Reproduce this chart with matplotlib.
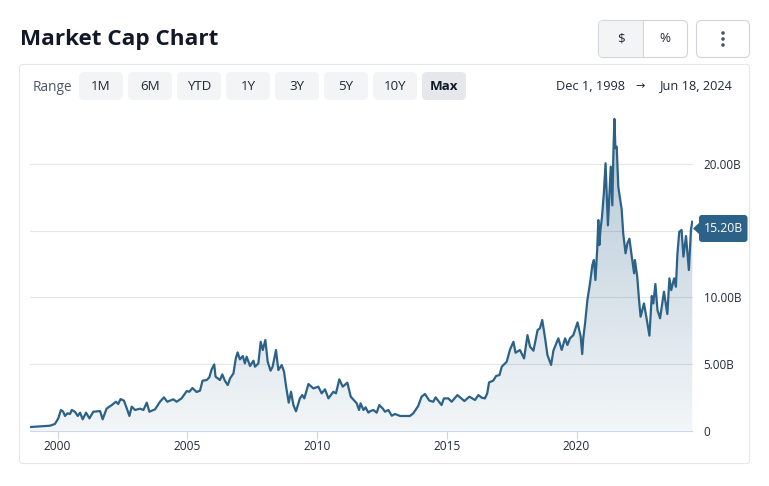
import numpy as np
import matplotlib
matplotlib.use("Agg")
import matplotlib.pyplot as plt
from matplotlib.patches import FancyBboxPatch, Rectangle, Polygon, Circle

# market cap in billions
years = [1998.94, 1999.33, 1999.71, 1999.90, 2000.03, 2000.13, 2000.22, 2000.29, 2000.38, 2000.48,
         2000.55, 2000.67, 2000.78, 2000.87, 2000.97, 2001.10, 2001.23, 2001.38, 2001.64, 2001.74,
         2001.89, 2002.09, 2002.25, 2002.34, 2002.43, 2002.56, 2002.67, 2002.77, 2002.86, 2002.99,
         2003.18, 2003.31, 2003.44, 2003.54, 2003.76, 2003.95, 2004.10, 2004.23, 2004.46, 2004.59,
         2004.78, 2004.98, 2005.08, 2005.20, 2005.36, 2005.49, 2005.59, 2005.75, 2005.85, 2005.94,
         2006.04, 2006.09, 2006.26, 2006.35, 2006.45, 2006.56, 2006.65, 2006.78, 2006.87, 2006.94,
         2007.03, 2007.14, 2007.22, 2007.29, 2007.42, 2007.55, 2007.61, 2007.74, 2007.83, 2007.91,
         2008.01, 2008.10, 2008.21, 2008.29, 2008.42, 2008.51, 2008.64, 2008.73, 2008.81, 2008.91,
         2009.00, 2009.09, 2009.19, 2009.34, 2009.43, 2009.51, 2009.67, 2009.86, 2010.05, 2010.18,
         2010.31, 2010.44, 2010.63, 2010.73, 2010.86, 2010.99, 2011.17, 2011.30, 2011.53, 2011.62,
         2011.68, 2011.79, 2011.87, 2011.98, 2012.04, 2012.17, 2012.30, 2012.40, 2012.53, 2012.62,
         2012.75, 2012.88, 2013.01, 2013.20, 2013.39, 2013.58, 2013.71, 2013.90, 2014.03, 2014.16,
         2014.33, 2014.48, 2014.57, 2014.80, 2014.89, 2015.06, 2015.19, 2015.41, 2015.68, 2015.87,
         2016.09, 2016.22, 2016.35, 2016.47, 2016.56, 2016.63, 2016.79, 2016.90, 2017.03, 2017.12,
         2017.31, 2017.44, 2017.57, 2017.65, 2017.82, 2017.98, 2018.11, 2018.21, 2018.34, 2018.50,
         2018.59, 2018.68, 2018.79, 2018.88, 2019.02, 2019.11, 2019.30, 2019.43, 2019.56, 2019.65,
         2019.75, 2019.88, 2020.04, 2020.16, 2020.22, 2020.26, 2020.33, 2020.42, 2020.52, 2020.61,
         2020.67, 2020.73, 2020.80, 2020.84, 2020.88, 2020.92, 2020.98, 2021.05, 2021.12, 2021.21,
         2021.32, 2021.38, 2021.42, 2021.46, 2021.50, 2021.55, 2021.61, 2021.74, 2021.80, 2021.89,
         2021.96, 2022.04, 2022.13, 2022.22, 2022.25, 2022.34, 2022.41, 2022.47, 2022.60, 2022.70,
         2022.81, 2022.90, 2022.96, 2023.04, 2023.12, 2023.22, 2023.37, 2023.50, 2023.58, 2023.65,
         2023.76, 2023.83, 2023.89, 2023.96, 2024.05, 2024.12, 2024.22, 2024.33, 2024.41, 2024.46]
caps = [0.26, 0.31, 0.36, 0.49, 0.91, 1.54, 1.41, 1.09, 1.29, 1.24,
        1.54, 1.41, 1.09, 1.34, 0.84, 1.34, 0.91, 1.41, 1.46, 0.84,
        1.64, 1.91, 2.16, 1.99, 2.36, 2.24, 1.66, 1.09, 1.79, 1.54,
        1.64, 1.54, 2.09, 1.41, 1.59, 2.16, 2.49, 2.16, 2.34, 2.16,
        2.41, 2.96, 2.91, 3.19, 2.89, 2.99, 3.74, 3.79, 3.99, 4.59,
        4.96, 4.04, 3.79, 4.21, 3.74, 3.41, 3.91, 4.29, 5.41, 5.86,
        5.34, 5.59, 5.04, 5.54, 4.84, 5.24, 4.79, 5.04, 6.66, 6.04,
        6.79, 5.16, 4.49, 4.79, 6.04, 4.54, 4.91, 4.41, 3.29, 2.09,
        2.91, 1.91, 1.44, 2.41, 2.66, 2.41, 3.49, 3.16, 3.29, 2.79,
        3.09, 2.41, 2.91, 2.79, 3.84, 3.29, 3.59, 2.54, 2.04, 1.54,
        2.04, 1.54, 1.74, 1.34, 1.44, 1.54, 1.34, 1.91, 1.66, 1.41,
        1.54, 1.11, 1.24, 1.09, 1.09, 1.09, 1.29, 1.84, 2.54, 2.74,
        2.24, 2.16, 2.49, 1.91, 2.41, 2.41, 2.16, 2.66, 2.21, 2.54,
        2.29, 2.66, 2.46, 2.41, 2.79, 3.61, 3.74, 4.09, 4.16, 4.79,
        5.16, 6.09, 6.66, 5.84, 6.04, 5.41, 7.16, 6.29, 5.99, 7.54,
        7.67, 8.30, 6.92, 5.67, 4.92, 6.00, 6.92, 6.05, 6.92, 6.42,
        6.92, 7.17, 8.12, 7.05, 5.74, 6.92, 8.04, 9.80, 11.05, 12.42,
        12.80, 11.30, 13.67, 15.80, 13.92, 15.00, 16.00, 17.70, 20.06, 15.40,
        19.81, 16.90, 20.69, 23.39, 21.19, 21.31, 18.30, 16.60, 14.80, 13.30,
        14.05, 14.40, 13.05, 11.80, 12.80, 11.55, 9.79, 8.54, 9.54, 8.42,
        7.12, 10.10, 9.54, 11.00, 9.04, 8.42, 10.42, 8.74, 11.42, 10.54,
        11.42, 10.79, 13.30, 14.92, 15.05, 13.05, 14.60, 12.05, 15.05, 15.67]

x_ticks = [2000, 2005, 2010, 2015, 2020]
y_ticks = [0, 5, 10, 15, 20]
y_labels = ["0", "5.00B", "10.00B", "", "20.00B"]
range_labels = ["1M", "6M", "YTD", "1Y", "3Y", "5Y", "10Y", "Max"]
last_label = "15.20B"

plt.rcParams["font.family"] = ["Open Sans", "DejaVu Sans"]
LINE = "#2c6288"
INK = "#1f2937"

W, H = 769, 486
fig = plt.figure(figsize=(W / 100, H / 100), dpi=100, facecolor="white")

# chart area
ax = fig.add_axes([30 / W, 1 - 430.5 / H, 662.5 / W, 320.5 / H], facecolor="none", zorder=2)

fill = ax.fill_between(years, caps, 0, color="none", linewidth=0)
rgba = np.zeros((256, 1, 4))
rgba[..., 0], rgba[..., 1], rgba[..., 2] = 44 / 255, 98 / 255, 136 / 255
rgba[:, 0, 3] = np.linspace(0.36, 0.06, 256)
im = ax.imshow(rgba, extent=[1998.94, 2024.47, 0, 23.4], aspect="auto", zorder=1)
im.set_clip_path(fill.get_paths()[0], transform=ax.transData)
ax.set_xlim(1998.94, 2024.47)
ax.set_ylim(0, 24.06)

ax.plot(years, caps, color=LINE, lw=1.6, zorder=3, solid_joinstyle="round")
ax.grid(axis="y", color="#e6e6e6", lw=0.8)
ax.set_axisbelow(True)
for s in ["top", "left", "right"]:
    ax.spines[s].set_visible(False)
ax.spines["bottom"].set_color("#ccd6eb")
ax.spines["bottom"].set_linewidth(0.8)
ax.set_xticks(x_ticks)
ax.set_yticks(y_ticks)
ax.set_yticklabels(y_labels)
ax.yaxis.tick_right()
ax.tick_params(axis="x", length=6, width=0.8, color="#ccd6eb", labelsize=8.6, labelcolor=INK, pad=1)
ax.tick_params(axis="y", length=0, labelsize=8.4, labelcolor=INK, pad=8)

# page furniture, in pixel coordinates
ui = fig.add_axes([0, 0, 1, 1], facecolor="none", zorder=3)
ui.set_xlim(0, W)
ui.set_ylim(H, 0)
ui.axis("off")


def box(x0, y0, x1, y1, face, edge="none", r=4, lw=0.8):
    p = FancyBboxPatch((x0, y0), x1 - x0, y1 - y0, boxstyle="round,pad=0,rounding_size=%g" % r,
                       facecolor=face, edgecolor=edge, linewidth=lw)
    ui.add_patch(p)


box(19.5, 64.5, 749.5, 463.5, "none", "#e5e7eb", r=3)
ui.text(19.5, 39, "Market Cap Chart", fontsize=16.2, fontweight="bold", color="#111827", va="center")

ui.text(33, 87.5, "Range", fontsize=9.8, color="#4b5563", va="center")
for i, label in enumerate(range_labels):
    x0 = 79 + i * 49
    active = label == "Max"
    box(x0, 72, x0 + 44, 100, "#e5e7eb" if active else "#f3f4f6", r=5)
    ui.text(x0 + 22, 87, label, fontsize=9.6, color="#111827" if active else INK,
            fontweight="bold" if active else "normal", ha="center", va="center")

ui.text(624.5, 86, "Dec 1, 1998", fontsize=9.2, color=INK, ha="right", va="center")
ui.text(640, 86, "\u2192", fontsize=8, color=INK, ha="center", va="center", family="DejaVu Sans")
ui.text(733, 86, "Jun 18, 2024", fontsize=9.2, color=INK, ha="right", va="center")

# $ / % toggle and menu button
box(598.5, 20.5, 687.5, 57.5, "white", "#d1d5db", r=5)
box(599, 21, 642, 57, "#f3f4f6", r=4)
ui.add_patch(Rectangle((640, 21), 2.5, 36, facecolor="#f3f4f6", edgecolor="none"))
ui.plot([642.5, 642.5], [21, 57], color="#d1d5db", lw=0.8)
ui.text(621, 39, "$", fontsize=9.6, color=INK, ha="center", va="center")
ui.text(665, 39, "%", fontsize=9.6, color=INK, ha="center", va="center")
box(696.5, 20.5, 749.5, 57.5, "white", "#d1d5db", r=5)
for y in [33, 39, 45]:
    ui.add_patch(Circle((723, y), 1.8, facecolor="#4b5563", edgecolor="none"))

# last value tag
box(699, 215, 747.5, 242, LINE, r=3)
ui.add_patch(Polygon([[693, 228.5], [700, 222], [700, 235]], facecolor=LINE, edgecolor="none"))
ui.text(723.5, 228.5, last_label, fontsize=8.8, color="white", ha="center", va="center")

fig.savefig("out.png", dpi=100)
